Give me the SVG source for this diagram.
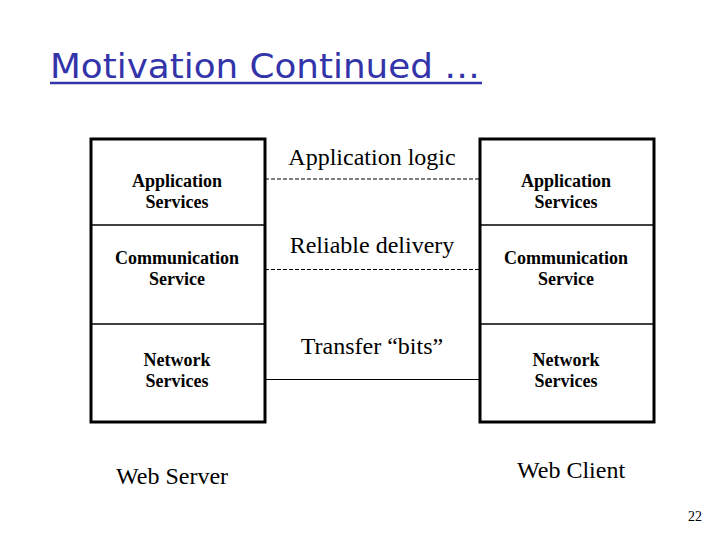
<svg xmlns="http://www.w3.org/2000/svg" width="720" height="540" viewBox="0 0 720 540">
<style>
.box{fill:none;stroke:#000;stroke-width:3}
.div{stroke:#000;stroke-width:1.5}
.dash{stroke:#000;stroke-width:1;stroke-dasharray:4,2}
.solid{stroke:#000;stroke-width:1.2}
.lbl{font-family:"Liberation Serif",serif;font-weight:bold;font-size:18px;text-anchor:middle;fill:#000}
.mid{font-family:"Liberation Serif",serif;font-size:24px;text-anchor:middle;fill:#000}
.cap{font-family:"Liberation Serif",serif;font-size:24px;fill:#000}
</style>
<rect width="720" height="540" fill="#fff"/>
<g id="title">
<text x="50" y="78" font-family="'DejaVu Sans',sans-serif" font-size="34" fill="#3333aa" textLength="430" lengthAdjust="spacingAndGlyphs">Motivation Continued …</text>
<line x1="50" y1="83" x2="482" y2="83" stroke="#3333aa" stroke-width="2.5"/>
</g>
<g id="server">
<rect class="box" x="91" y="139" width="174" height="283"/>
<line class="div" x1="91" y1="225" x2="265" y2="225"/>
<line class="div" x1="91" y1="324" x2="265" y2="324"/>
<text class="lbl" x="177" y="187">Application</text>
<text class="lbl" x="177" y="208">Services</text>
<text class="lbl" x="177" y="264">Communication</text>
<text class="lbl" x="177" y="285">Service</text>
<text class="lbl" x="177" y="366">Network</text>
<text class="lbl" x="177" y="387">Services</text>
<text class="cap" x="116" y="484">Web Server</text>
</g>
<g id="client">
<rect class="box" x="480" y="139" width="174" height="283"/>
<line class="div" x1="480" y1="225" x2="654" y2="225"/>
<line class="div" x1="480" y1="324" x2="654" y2="324"/>
<text class="lbl" x="566" y="187">Application</text>
<text class="lbl" x="566" y="208">Services</text>
<text class="lbl" x="566" y="264">Communication</text>
<text class="lbl" x="566" y="285">Service</text>
<text class="lbl" x="566" y="366">Network</text>
<text class="lbl" x="566" y="387">Services</text>
<text class="cap" x="517" y="478">Web Client</text>
</g>
<g id="connectors">
<line class="dash" x1="265" y1="179" x2="480" y2="179"/>
<line class="dash" x1="265" y1="269.500" x2="480" y2="269.500"/>
<line class="solid" x1="265" y1="379.500" x2="480" y2="379.500"/>
<text class="mid" x="372" y="165">Application logic</text>
<text class="mid" x="372" y="253">Reliable delivery</text>
<text class="mid" x="372" y="354">Transfer “bits”</text>
</g>
<text x="688" y="521" font-family="'Liberation Serif',serif" font-size="14" fill="#000">22</text>
</svg>
